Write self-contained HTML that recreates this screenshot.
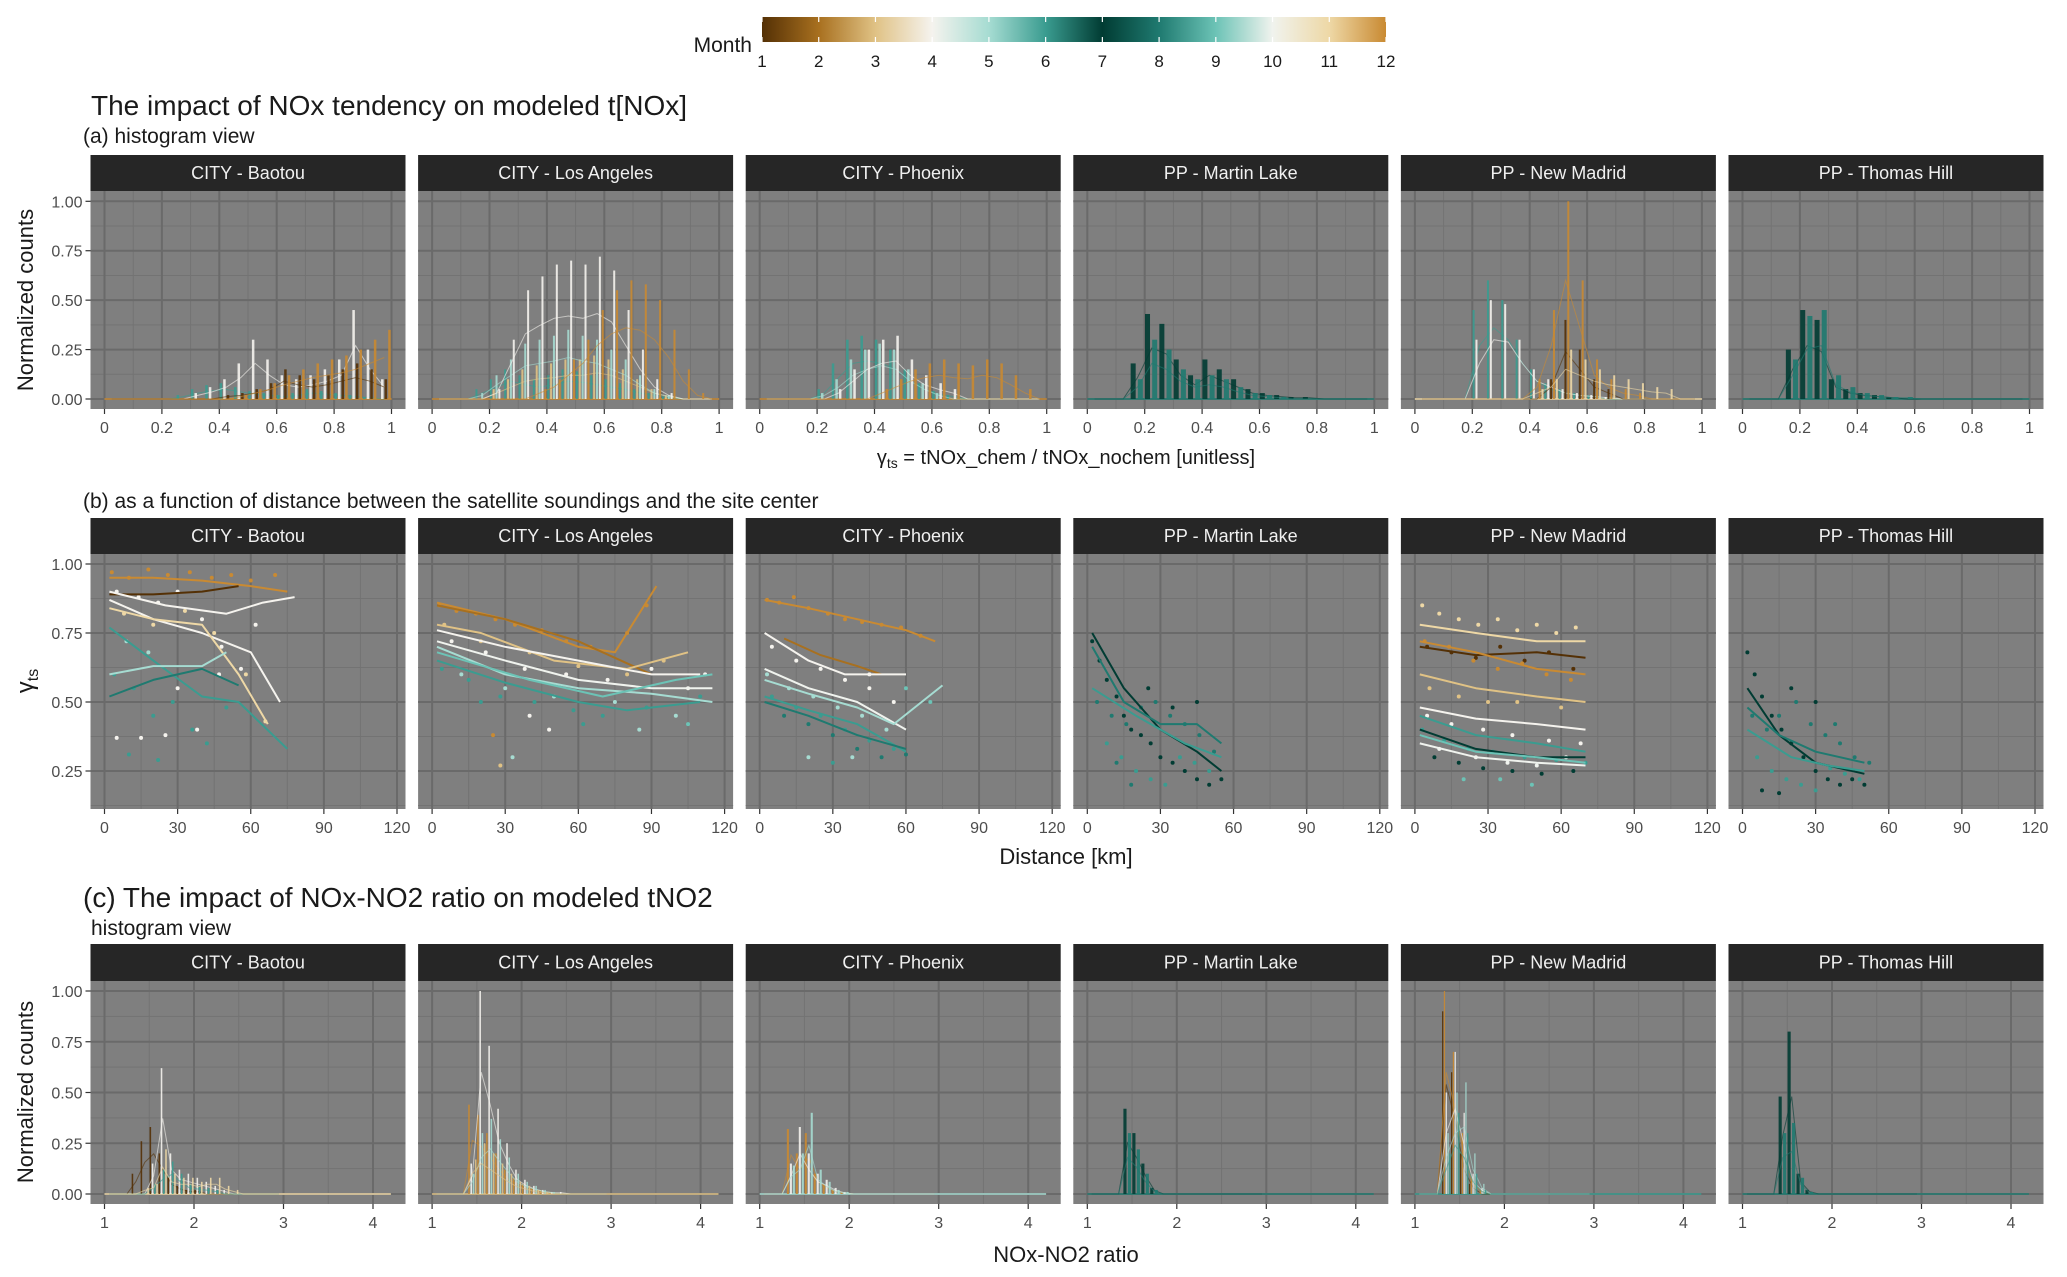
<!DOCTYPE html>
<html><head><meta charset="utf-8"><style>
html,body{margin:0;padding:0;background:#fff;}
svg text{font-family:"Liberation Sans",sans-serif;}
</style></head><body>
<svg id="fig" xmlns="http://www.w3.org/2000/svg" width="2067" height="1272" viewBox="0 0 2067 1272">
<defs>
<linearGradient id="mgrad" x1="0" x2="1" y1="0" y2="0">
<stop offset="0" stop-color="#543005"/><stop offset="0.0909" stop-color="#a8701f"/><stop offset="0.1818" stop-color="#e0c285"/>
<stop offset="0.2727" stop-color="#f5f3ee"/><stop offset="0.3636" stop-color="#a6dcd2"/><stop offset="0.4545" stop-color="#3a9c90"/>
<stop offset="0.5454" stop-color="#013c33"/><stop offset="0.6363" stop-color="#1f7a70"/><stop offset="0.7272" stop-color="#6cc3b6"/>
<stop offset="0.8181" stop-color="#f0f3ee"/><stop offset="0.9090" stop-color="#eed8a6"/><stop offset="1" stop-color="#c98a32"/>
</linearGradient>
</defs>
<g>
<text x="752" y="52" font-size="21" text-anchor="end" fill="#1a1a1a">Month</text>
<rect x="762" y="17" width="624" height="25" fill="url(#mgrad)"/>
<g id="legticks"></g>
</g>
<text x="91" y="115" font-size="28" fill="#1a1a1a">The impact of NOx tendency on modeled t[NOx]</text>
<text x="83" y="143" font-size="21" fill="#1a1a1a">(a) histogram view</text>
<text x="83" y="508" font-size="21" fill="#1a1a1a">(b) as a function of distance between the satellite soundings and the site center</text>
<text x="83" y="907" font-size="28" fill="#1a1a1a">(c) The impact of NOx-NO2 ratio on modeled tNO2</text>
<text x="91" y="935" font-size="21" fill="#1a1a1a">histogram view</text>
<text x="1066" y="464" font-size="20" text-anchor="middle" fill="#1a1a1a">γ<tspan font-size="14" dy="4">ts</tspan><tspan dy="-4"> = tNOx_chem / tNOx_nochem [unitless]</tspan></text>
<text x="1066" y="864" font-size="22" text-anchor="middle" fill="#1a1a1a">Distance [km]</text>
<text x="1066" y="1262" font-size="22" text-anchor="middle" fill="#1a1a1a">NOx-NO2 ratio</text>
<text transform="translate(33,300) rotate(-90)" font-size="22" text-anchor="middle" fill="#1a1a1a">Normalized counts</text>
<text transform="translate(33,681) rotate(-90)" font-size="24" text-anchor="middle" fill="#1a1a1a">γ<tspan font-size="16" dy="5">ts</tspan></text>
<text transform="translate(33,1092) rotate(-90)" font-size="22" text-anchor="middle" fill="#1a1a1a">Normalized counts</text>
<g id="plots"></g>
</svg>
<script>
const sites = ["CITY - Baotou","CITY - Los Angeles","CITY - Phoenix","PP - Martin Lake","PP - New Madrid","PP - Thomas Hill"];
const monthColors = ["#543005","#a8701f","#e0c285","#f5f3ee","#a6dcd2","#3a9c90","#013c33","#1f7a70","#6cc3b6","#f0f3ee","#eed8a6","#c98a32"];
const legendLabels = [1,2,3,4,5,6,7,8,9,10,11,12];
const ticksA = [0,0.2,0.4,0.6,0.8,1];
const tickLabelsA = ["0","0.2","0.4","0.6","0.8","1"];
const ticksB = [0,30,60,90,120];
const ticksC = [1,2,3,4];
const yTicksCount = [0,0.25,0.5,0.75,1];
const yTicksCountLabels = ["0.00","0.25","0.50","0.75","1.00"];
const yTicksB = [0.25,0.5,0.75,1];
const yTicksBLabels = ["0.25","0.50","0.75","1.00"];

const histAMonths = [[6,4,1,12],[6,3,5,4,12],[6,5,4,12],[7,8],[6,4,1,12,11],[7,8]];
const histAValues = [
 [[0,0,0,0,0,.02,.05,.07,.08,.06,.04,.03,.02,.03,.05,.04,.03,.02,.01,0],
  [0,0,0,0,0,0,.03,.06,.1,.18,.3,.2,.12,.1,.12,.15,.2,.45,.25,.1],
  [0,0,0,0,0,0,0,0,.02,.03,.05,.08,.15,.12,.1,.12,.15,.18,.15,.1],
  [0,0,0,0,0,0,0,0,0,.02,.05,.08,.12,.15,.18,.2,.22,.25,.3,.35]],
 [[0,0,0,.05,.1,.15,.12,.1,.12,.15,.14,.12,.1,.08,.05,.03,.01,0,0,0],
  [0,0,0,0,.05,.1,.15,.17,.18,.2,.2,.22,.2,.15,.1,.05,.02,0,0,0],
  [0,0,0,.03,.12,.2,.28,.3,.32,.35,.32,.3,.25,.2,.12,.05,.02,0,0,0],
  [0,0,0,0,.05,.3,.55,.62,.68,.7,.68,.72,.65,.45,.25,.1,.03,0,0,0],
  [0,0,0,0,0,0,0,.05,.1,.2,.3,.45,.55,.6,.58,.5,.35,.15,.03,0]],
 [[0,0,0,0,.05,.18,.3,.32,.3,.25,.15,.08,.04,.02,0,0,0,0,0,0],
  [0,0,0,0,.03,.1,.2,.25,.28,.25,.15,.08,.03,0,0,0,0,0,0,0],
  [0,0,0,0,0,.05,.15,.25,.3,.32,.2,.12,.08,.05,0,0,0,0,0,0],
  [0,0,0,0,0,0,0,0,.05,.1,.15,.18,.2,.18,.17,.2,.18,.12,.05,0]],
 [[0,0,0,.18,.43,.38,.2,.12,.2,.15,.1,.05,.03,.02,.01,.01,0,0,0,0],
  [0,0,0,.1,.3,.25,.15,.1,.12,.1,.06,.03,.02,.01,0,0,0,0,0,0]],
 [[0,0,0,0,.45,.6,.5,.3,.15,.08,.05,.03,.02,0,0,0,0,0,0,0],
  [0,0,0,0,.3,.5,.48,.3,.15,.1,.05,.03,.02,.01,0,0,0,0,0,0],
  [0,0,0,0,0,0,0,0,0,.1,.4,.25,.1,.05,0,0,0,0,0,0],
  [0,0,0,0,0,0,0,0,.1,.45,1.0,.6,.2,.1,.05,.03,0,0,0,0],
  [0,0,0,0,0,0,0,0,.05,.1,.25,.2,.15,.12,.1,.08,.06,.05,0,0]],
 [[0,0,0,.25,.45,.4,.1,.05,.03,.02,.01,0,0,0,0,0,0,0,0,0],
  [0,0,0,.2,.42,.45,.12,.06,.03,.02,.01,.01,0,0,0,0,0,0,0,0]]
];

const histCMonths = [[1,4,6,11],[12,4,5,3],[12,4,5],[7,8],[1,12,4,5,6],[7,8]];
const histCValues = [
 [[0,0,0,.1,.26,.33,.2,.08,.04,.02,.02,0,0,0,0,0,0,0,0,0],
  [0,0,0,0,0,.15,.62,.2,.12,.1,.08,.06,.04,.02,0,0,0,0,0,0],
  [0,0,0,0,0,.05,.12,.16,.1,.05,.04,.03,.02,0,0,0,0,0,0,0],
  [0,0,0,0,.03,.05,.22,.1,.08,.08,.06,.08,.08,.04,.02,0,0,0,0,0]],
 [[0,0,0,0,.44,.39,.3,.2,.12,.08,.05,.03,.02,.01,0,0,0,0,0,0],
  [0,0,0,0,.15,1.0,.73,.42,.25,.12,.07,.04,.02,.01,.01,0,0,0,0,0],
  [0,0,0,0,.1,.3,.37,.27,.18,.1,.06,.04,.02,.01,0,0,0,0,0,0],
  [0,0,0,0,.17,.25,.2,.15,.1,.06,.04,.02,.01,0,0,0,0,0,0,0]],
 [[0,0,0,.32,.2,.3,.1,.05,.02,.01,0,0,0,0,0,0,0,0,0,0],
  [0,0,0,.15,.33,.2,.1,.07,.03,.01,0,0,0,0,0,0,0,0,0,0],
  [0,0,0,.14,.2,.4,.12,.06,.02,.01,0,0,0,0,0,0,0,0,0,0]],
 [[0,0,0,0,.42,.3,.15,.03,0,0,0,0,0,0,0,0,0,0,0,0],
  [0,0,0,0,.3,.22,.1,.02,0,0,0,0,0,0,0,0,0,0,0,0]],
 [[0,0,0,.9,.6,.2,.05,0,0,0,0,0,0,0,0,0,0,0,0,0],
  [0,0,0,1.0,.7,.3,.08,.02,0,0,0,0,0,0,0,0,0,0,0,0],
  [0,0,0,.5,.7,.4,.1,.03,0,0,0,0,0,0,0,0,0,0,0,0],
  [0,0,0,.3,.5,.55,.2,.05,0,0,0,0,0,0,0,0,0,0,0,0],
  [0,0,0,.2,.4,.3,.1,.02,0,0,0,0,0,0,0,0,0,0,0,0]],
 [[0,0,0,0,.48,.8,.1,.02,0,0,0,0,0,0,0,0,0,0,0,0],
  [0,0,0,0,.3,.35,.08,.01,0,0,0,0,0,0,0,0,0,0,0,0]]
];

const curveMonths = [
 [12,1,4,4,11,6,8,5],
 [12,2,3,4,10,5,6,9],
 [12,2,4,10,5,6,8],
 [7,8,6],
 [11,1,12,3,4,6,7,9,10],
 [7,8,6]];
const curveKnots = [
 [[[2,.95],[20,.95],[40,.94],[60,.92],[75,.9]],[[2,.89],[20,.89],[40,.9],[55,.92]],[[2,.9],[25,.85],[50,.82],[65,.86],[78,.88]],[[2,.87],[20,.8],[40,.75],[60,.68],[72,.5]],[[2,.84],[20,.8],[40,.78],[55,.6],[67,.42]],[[2,.77],[20,.65],[40,.52],[55,.5],[75,.33]],[[2,.52],[20,.58],[40,.62],[55,.56]],[[2,.6],[20,.63],[40,.63],[50,.68]]],
 [[[2,.86],[30,.8],[60,.7],[75,.68],[92,.92]],[[2,.85],[30,.8],[60,.72],[90,.6]],[[2,.78],[20,.75],[50,.65],[80,.62],[105,.68]],[[2,.76],[30,.7],[60,.65],[90,.6],[110,.6]],[[2,.72],[30,.65],[60,.58],[90,.55],[115,.55]],[[2,.7],[30,.6],[60,.55],[90,.53],[115,.5]],[[2,.65],[30,.57],[60,.5],[80,.47],[110,.5]],[[2,.68],[40,.58],[70,.52],[100,.58],[115,.6]]],
 [[[2,.87],[20,.84],[40,.8],[60,.76],[72,.72]],[[10,.73],[25,.67],[40,.63],[50,.6]],[[2,.75],[20,.65],[35,.6],[60,.6]],[[2,.62],[20,.55],[40,.5],[60,.4]],[[2,.58],[20,.53],[40,.48],[55,.42],[75,.56]],[[2,.52],[20,.47],[40,.42],[60,.32]],[[2,.5],[20,.45],[40,.38],[60,.33]]],
 [[[2,.75],[15,.55],[30,.4],[45,.32],[55,.25]],[[2,.7],[15,.5],[30,.42],[45,.42],[55,.35]],[[2,.55],[20,.45],[40,.35],[55,.3]]],
 [[[2,.78],[25,.75],[50,.72],[70,.72]],[[2,.7],[25,.67],[50,.68],[70,.66]],[[2,.72],[25,.68],[50,.62],[70,.6]],[[2,.6],[25,.55],[50,.52],[70,.5]],[[2,.48],[25,.44],[50,.42],[70,.4]],[[2,.45],[25,.38],[50,.35],[70,.32]],[[2,.4],[25,.33],[50,.3],[70,.3]],[[2,.38],[25,.32],[50,.3],[70,.28]],[[2,.35],[25,.3],[50,.28],[70,.27]]],
 [[[2,.55],[15,.38],[30,.28],[50,.24]],[[2,.48],[15,.38],[30,.32],[50,.28]],[[2,.4],[20,.3],[35,.27],[50,.25]]]
];
const scatterPoints = [
 [[3,.97,12],[10,.95,12],[18,.98,12],[26,.96,12],[35,.97,12],[44,.95,12],[52,.96,12],[60,.94,12],[70,.96,12],[5,.9,4],[14,.88,4],[22,.86,4],[30,.9,4],[40,.8,4],[48,.7,4],[56,.62,4],[62,.78,4],[8,.82,11],[20,.78,11],[33,.83,11],[45,.75,11],[4,.6,6],[12,.55,6],[20,.45,6],[28,.5,6],[36,.4,6],[42,.35,6],[50,.48,6],[15,.37,4],[25,.38,4],[38,.4,4],[5,.37,4],[22,.29,6],[30,.55,4],[47,.6,4],[58,.6,11],[66,.43,11],[9,.72,5],[18,.68,5],[10,.31,6]],
 [[3,.85,12],[10,.83,12],[18,.82,12],[26,.8,12],[34,.78,12],[45,.76,12],[55,.72,12],[65,.7,12],[80,.75,12],[88,.85,12],[5,.78,3],[20,.72,3],[40,.68,3],[60,.63,3],[80,.6,3],[95,.65,3],[8,.72,4],[22,.68,4],[38,.62,4],[55,.6,4],[72,.58,4],[90,.62,4],[105,.55,4],[4,.62,6],[15,.58,6],[28,.52,6],[42,.5,6],[58,.47,6],[70,.45,6],[88,.48,6],[110,.52,6],[12,.6,5],[30,.55,5],[50,.52,5],[75,.5,5],[100,.45,5],[25,.38,12],[28,.27,3],[33,.3,5],[40,.45,4],[48,.4,4],[62,.42,6],[85,.4,5],[105,.42,9],[112,.6,10],[20,.5,6]],
 [[3,.87,12],[8,.86,12],[14,.88,12],[20,.84,12],[28,.82,12],[35,.8,12],[42,.79,12],[50,.78,12],[58,.77,12],[66,.74,12],[5,.7,4],[15,.65,4],[25,.62,4],[35,.58,4],[45,.55,4],[55,.5,4],[3,.6,5],[12,.55,5],[22,.52,5],[32,.48,5],[42,.45,5],[52,.4,5],[5,.52,6],[15,.48,6],[25,.45,6],[35,.4,6],[45,.36,6],[55,.33,6],[10,.45,8],[20,.42,8],[30,.38,8],[40,.33,8],[50,.3,8],[60,.31,8],[30,.28,6],[38,.3,5],[45,.6,4],[60,.55,9],[70,.5,9],[20,.3,5]],
 [[2,.72,7],[5,.65,7],[8,.58,7],[12,.52,7],[15,.45,7],[18,.4,7],[22,.38,7],[26,.35,7],[30,.3,7],[35,.28,7],[40,.25,7],[45,.22,7],[50,.2,7],[55,.22,7],[4,.5,8],[10,.45,8],[16,.42,8],[22,.48,8],[28,.5,8],[34,.45,8],[40,.42,8],[46,.38,8],[52,.32,8],[8,.35,6],[14,.3,6],[20,.25,6],[26,.22,6],[32,.2,6],[38,.3,6],[44,.28,6],[50,.25,6],[25,.55,7],[35,.48,7],[45,.5,7],[12,.28,8],[18,.2,8]],
 [[3,.85,11],[10,.82,11],[18,.8,11],[26,.78,11],[34,.8,11],[42,.76,11],[50,.78,11],[58,.75,11],[66,.77,11],[5,.7,1],[15,.68,1],[25,.66,1],[35,.7,1],[45,.65,1],[55,.68,1],[65,.62,1],[4,.72,12],[14,.7,12],[24,.65,12],[34,.62,12],[44,.64,12],[54,.6,12],[64,.58,12],[6,.55,3],[18,.52,3],[30,.5,3],[42,.5,3],[60,.48,3],[5,.45,4],[15,.42,4],[28,.4,4],[40,.38,4],[55,.36,4],[68,.35,4],[3,.4,6],[12,.36,6],[22,.33,6],[32,.32,6],[45,.3,6],[58,.29,6],[70,.28,6],[8,.3,7],[18,.28,7],[28,.26,7],[40,.25,7],[52,.24,7],[65,.25,7],[10,.33,10],[25,.3,10],[38,.28,10],[50,.27,10],[62,.3,10],[20,.22,9],[35,.22,9],[48,.2,9]],
 [[2,.68,7],[5,.6,7],[8,.52,7],[12,.45,7],[16,.4,7],[20,.35,7],[25,.3,7],[30,.25,7],[35,.22,7],[40,.2,7],[45,.22,7],[50,.2,7],[4,.45,8],[10,.4,8],[15,.45,8],[22,.5,8],[28,.42,8],[34,.38,8],[40,.35,8],[46,.3,8],[52,.28,8],[6,.3,6],[12,.25,6],[18,.22,6],[24,.2,6],[30,.18,6],[36,.26,6],[42,.24,6],[48,.22,6],[20,.55,7],[30,.5,7],[38,.42,8],[8,.18,7],[15,.17,7]]
];

const NS="http://www.w3.org/2000/svg";
const root=document.getElementById('plots');
function mk(tag,attrs,parent){const e=document.createElementNS(NS,tag);for(const k in attrs)e.setAttribute(k,attrs[k]);(parent||root).appendChild(e);return e;}
function col(m){return monthColors[m-1];}

const legG=document.getElementById('legticks');
legendLabels.forEach(function(m){
  const x=762+(m-1)/11*624;
  const t=mk('line',{x1:x,x2:x,y1:17,y2:22,stroke:'#ffffff','stroke-width':1.2},legG);
  
  
  const t2=mk('line',{x1:x,x2:x,y1:37,y2:42,stroke:'#ffffff','stroke-width':1.2},legG);
  
  
  const lb=mk('text',{x:x,y:67,'font-size':17,'text-anchor':'middle',fill:'#1a1a1a'},legG);
  lb.textContent=String(m);
  
  
});

const PL=90.5, STEP=327.6, PW=315;
function panelFrame(i,row,cfg){
  const x0=PL+i*STEP;
  const g=mk('g',{});
  
  
  const st=mk('rect',{x:x0,y:cfg.stripTop,width:PW,height:cfg.panTop-cfg.stripTop,fill:'#262626'},g);
  
  
  const stt=mk('text',{x:x0+PW/2,y:(cfg.stripTop+cfg.panTop)/2+6,'font-size':18,'text-anchor':'middle',fill:'#f0f0f0'},g);
  stt.textContent=sites[i];
  
  
  const bg=mk('rect',{x:x0,y:cfg.panTop,width:PW,height:cfg.panBot-cfg.panTop,fill:'#7f7f7f'},g);
  
  
  const xs=function(v){return x0+cfg.xOff+(v-cfg.x0)*cfg.xs;};
  const ys=cfg.ys;
  cfg.yMinor.forEach(function(v){const y=ys(v);if(y<cfg.panTop||y>cfg.panBot)return;const l=mk('line',{x1:x0,x2:x0+PW,y1:y,y2:y,stroke:'#737373','stroke-width':1},g);});
  cfg.xMinor.forEach(function(v){const x=xs(v);const l=mk('line',{x1:x,x2:x,y1:cfg.panTop,y2:cfg.panBot,stroke:'#737373','stroke-width':1},g);});
  cfg.yTicks.forEach(function(v){const y=ys(v);const l=mk('line',{x1:x0,x2:x0+PW,y1:y,y2:y,stroke:'#6a6a6a','stroke-width':2},g);});
  cfg.xTicks.forEach(function(v,k){const x=xs(v);
    const l=mk('line',{x1:x,x2:x,y1:cfg.panTop,y2:cfg.panBot,stroke:'#6a6a6a','stroke-width':2},g);
    const tk=mk('line',{x1:x,x2:x,y1:cfg.panBot,y2:cfg.panBot+5,stroke:'#333','stroke-width':1.2},g);
    const tl=mk('text',{x:x,y:cfg.panBot+24,'font-size':16,'text-anchor':'middle',fill:'#4d4d4d'},g);tl.textContent=cfg.xLabels[k];
  });
  if(i===0){cfg.yTicks.forEach(function(v,k){const y=ys(v);
    const tk=mk('line',{x1:x0-5,x2:x0,y1:y,y2:y,stroke:'#333','stroke-width':1.2},g);
    const tl=mk('text',{x:x0-8,y:y+6,'font-size':16,'text-anchor':'end',fill:'#4d4d4d'},g);tl.textContent=cfg.yLabels[k];
  });}
  return {g:g,xs:xs,ys:ys};
}

function drawHist(i,row,cfg,months,values,binStart,binW){
  const f=panelFrame(i,row,cfg);
  const n=months.length;
  const bw=binW*cfg.xs/n;
  const bl=mk('line',{x1:f.xs(cfg.x0),x2:f.xs(cfg.x1),y1:cfg.ys(0),y2:cfg.ys(0),stroke:col(months[n-1]),'stroke-width':1.5},f.g);
  
  
  months.forEach(function(m,s){
    const vals=values[s];
    const pts=[];
    vals.forEach(function(v,b){
      const xl=f.xs(binStart+b*binW)+s*bw;
      pts.push((f.xs(binStart+(b+0.5)*binW)).toFixed(1)+','+cfg.ys(v*0.6).toFixed(1));
      if(v>0){
        const r=mk('rect',{x:xl+0.3,y:cfg.ys(v),width:Math.max(1.2,bw*0.7),height:cfg.ys(0)-cfg.ys(v),fill:col(m),opacity:0.9},f.g);
        
        
      }
    });
    const pl=mk('polyline',{points:pts.join(' '),fill:'none',stroke:col(m),'stroke-width':1,opacity:0.6},f.g);
    
    
  });
}

function minorList(t){const r=[];for(let k=0;k<t.length-1;k++)r.push((t[k]+t[k+1])/2);return r;}

const cfgA={stripTop:155,panTop:191,panBot:409,xOff:14,x0:0,x1:1,xs:287,ys:function(v){return 399-v*197.7;},
  xTicks:ticksA,xLabels:tickLabelsA,xMinor:minorList(ticksA),yTicks:yTicksCount,yLabels:yTicksCountLabels,yMinor:minorList(yTicksCount).concat([1.125])};
for(let i=0;i<6;i++) drawHist(i,'a',cfgA,histAMonths[i],histAValues[i],0,0.05);

const cfgC={stripTop:944,panTop:981,panBot:1204,xOff:14,x0:1,x1:4.2,xs:89.5,ys:function(v){return 1194-v*203;},
  xTicks:ticksC,xLabels:ticksC.map(String),xMinor:minorList(ticksC),yTicks:yTicksCount,yLabels:yTicksCountLabels,yMinor:minorList(yTicksCount).concat([1.125])};
for(let i=0;i<6;i++) drawHist(i,'c',cfgC,histCMonths[i],histCValues[i],1.0,0.1);

const cfgB={stripTop:518,panTop:554,panBot:809,xOff:14,x0:0,x1:120,xs:2.4375,ys:function(v){return 564+(1-v)*276;},
  xTicks:ticksB,xLabels:ticksB.map(String),xMinor:minorList(ticksB),yTicks:yTicksB,yLabels:yTicksBLabels,yMinor:[0.125,0.375,0.625,0.875]};
for(let i=0;i<6;i++){
  const f=panelFrame(i,'b',cfgB);
  scatterPoints[i].forEach(function(p){
    const c=mk('circle',{cx:f.xs(p[0]),cy:cfgB.ys(p[1]),r:2,fill:col(p[2])},f.g);
    
    
  });
  curveMonths[i].forEach(function(m,s){
    const pts=curveKnots[i][s].map(function(k){return f.xs(k[0]).toFixed(1)+','+cfgB.ys(k[1]).toFixed(1);});
    const pl=mk('polyline',{points:pts.join(' '),fill:'none',stroke:col(m),'stroke-width':2,'stroke-linejoin':'round'},f.g);
    
    
  });
}
</script>
</body></html>
